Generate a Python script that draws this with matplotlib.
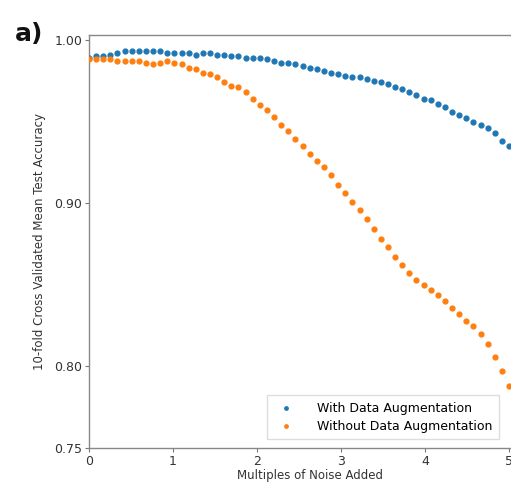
import matplotlib
matplotlib.use('Agg')
import matplotlib.pyplot as plt
import numpy as np

# multiples of noise added (60 evenly spaced runs from 0 to 5)
noise_multiples = np.linspace(0, 5, 60)

acc_with_aug = [0.989, 0.990, 0.990, 0.991, 0.992, 0.993, 0.993, 0.993, 0.993, 0.993,
                0.993, 0.992, 0.992, 0.992, 0.992, 0.991, 0.992, 0.992, 0.991, 0.991,
                0.990, 0.990, 0.989, 0.989, 0.989, 0.988, 0.987, 0.986, 0.986, 0.985,
                0.984, 0.983, 0.982, 0.981, 0.980, 0.979, 0.978, 0.977, 0.977, 0.976,
                0.975, 0.974, 0.973, 0.971, 0.970, 0.968, 0.966, 0.964, 0.963, 0.961,
                0.959, 0.956, 0.954, 0.952, 0.950, 0.948, 0.946, 0.943, 0.938, 0.935]

acc_without_aug = [0.988, 0.988, 0.988, 0.988, 0.987, 0.987, 0.987, 0.987, 0.986, 0.985,
                   0.986, 0.987, 0.986, 0.985, 0.983, 0.982, 0.980, 0.979, 0.977, 0.974,
                   0.972, 0.971, 0.968, 0.964, 0.960, 0.957, 0.953, 0.948, 0.944, 0.939,
                   0.935, 0.930, 0.926, 0.922, 0.917, 0.911, 0.906, 0.901, 0.896, 0.890,
                   0.884, 0.878, 0.873, 0.867, 0.862, 0.857, 0.853, 0.850, 0.847, 0.844,
                   0.840, 0.836, 0.832, 0.828, 0.825, 0.820, 0.814, 0.806, 0.797, 0.788]

legenda = ['With Data Augmentation', 'Without Data Augmentation']
yticks = [0.75, 0.80, 0.90, 1.00]
xticks = [0, 1, 2, 3, 4, 5]

W, H = 511, 486
fig = plt.figure(figsize=(W / 100, H / 100), dpi=100)
# axes runs past the right edge of the figure (reference is cropped)
ax = fig.add_axes([89 / W, 1 - 448 / H, 441 / W, 413 / H])

ax.scatter(noise_multiples, acc_with_aug, s=12, color='#1f77b4', label=legenda[0], zorder=3)
ax.scatter(noise_multiples, acc_without_aug, s=12, color='#ff7f0e', label=legenda[1], zorder=3)

ax.set_xlim(0, 5.25)
ax.set_ylim(0.75, 1.003)
ax.set_xticks(xticks)
ax.set_yticks(yticks)
ax.set_yticklabels(['%.2f' % t for t in yticks])
ax.tick_params(labelsize=9, length=3, color='#777777', labelcolor='#333333', pad=2)
for sp in ax.spines.values():
    sp.set_color('#888888')
    sp.set_linewidth(1.0)

ax.set_xlabel('Multiples of Noise Added', fontsize=8.5, color='#333333', labelpad=1)
ax.set_ylabel('10-fold Cross Validated Mean Test Accuracy', fontsize=8.5, color='#333333', labelpad=6)

ax.legend(loc='lower right', bbox_to_anchor=(505 / W, 1 - 445 / H),
          bbox_transform=fig.transFigure, fontsize=9, markerscale=0.7,
          handletextpad=1.5, borderpad=0.5, labelspacing=0.4, fancybox=False,
          edgecolor='#dddddd', framealpha=1)

fig.text(15 / W, 1 - 41 / H, 'a)', fontsize=18, fontweight='bold', color='#111111')

fig.savefig('out.png', dpi=100)
